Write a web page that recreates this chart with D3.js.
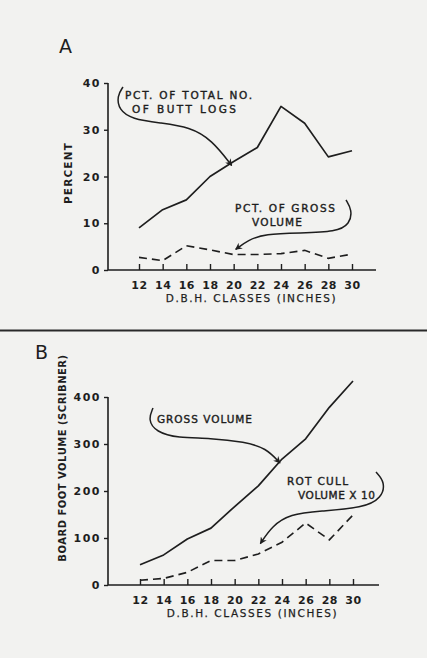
<!DOCTYPE html>
<html>
<head>
<meta charset="utf-8">
<script src="https://cdn.jsdelivr.net/npm/d3@7"></script>
<style>
  body { margin: 0; background: #f2f2f0; }
  svg { display: block; }
  text { font-family: "DejaVu Sans", sans-serif; fill: #1e1e1e; }
</style>
</head>
<body>
<svg id="chart" width="427" height="658"></svg>
<script>
// data
const dbhClasses = [12, 14, 16, 18, 20, 22, 24, 26, 28, 30];
const pctButtLogs = [9.0, 12.9, 15.0, 20.0, 23.2, 26.2, 35.0, 31.4, 24.2, 25.5];
const pctGrossVolume = [2.7, 2.0, 5.2, 4.3, 3.3, 3.3, 3.5, 4.2, 2.5, 3.4];
const grossVolume = [43, 64, 98, 121, 167, 211, 268, 311, 378, 434];
const rotCullX10 = [10, 14, 27, 52, 52, 66, 91, 132, 96, 149];
const pctTicks = [0, 10, 20, 30, 40];
const volTicks = [0, 100, 200, 300, 400];

const ink = "#1e1e1e";
const svg = d3.select("#chart");

svg.append("defs").append("marker")
    .attr("id", "arrow")
    .attr("viewBox", "0 -5 10 10")
    .attr("refX", 9)
    .attr("refY", 0)
    .attr("markerWidth", 7)
    .attr("markerHeight", 7)
    .attr("markerUnits", "userSpaceOnUse")
    .attr("orient", "auto")
    .append("path")
    .attr("fill", ink)
    .attr("d", "M0,-5L10,0L0,5L3,0Z");

// divider between the two panels
svg.append("line")
    .attr("x1", 0).attr("x2", 427)
    .attr("y1", 330.5).attr("y2", 330.5)
    .attr("stroke", "#2a2a2a")
    .attr("stroke-width", 2);

function panel(opts) {
    const g = svg.append("g");
    const x = d3.scaleLinear().domain([12, 30]).range(opts.xRange);
    const y = d3.scaleLinear().domain(opts.yDomain).range(opts.yRange);

    // axis lines
    g.append("path")
        .attr("fill", "none")
        .attr("stroke", ink)
        .attr("stroke-width", 1.6)
        .attr("d", `M${opts.axisX},${y.range()[1]}V${y(0)}H${opts.axisEnd}`);

    const xa = g.append("g")
        .attr("transform", `translate(0,${y(0)})`)
        .call(d3.axisBottom(x).tickValues(dbhClasses).tickSizeInner(-6).tickSizeOuter(0).tickPadding(11));
    xa.select(".domain").remove();
    xa.selectAll("line").attr("stroke", ink).attr("stroke-width", 1.4);
    xa.selectAll("text")
        .attr("font-size", 11).attr("font-weight", "bold")
        .attr("letter-spacing", 0.5).attr("fill", ink);

    const ya = g.append("g")
        .attr("transform", `translate(${opts.axisX},0)`)
        .call(d3.axisLeft(y).tickValues(opts.yTicks).tickSizeInner(4).tickSizeOuter(0).tickPadding(3));
    ya.select(".domain").remove();
    ya.selectAll("line").attr("stroke", ink).attr("stroke-width", 1.4);
    ya.selectAll("text")
        .attr("font-size", 11).attr("font-weight", "bold")
        .attr("letter-spacing", 1.5).attr("fill", ink);

    const line = d3.line().x((d, i) => x(dbhClasses[i])).y(d => y(d));

    g.append("path")
        .datum(opts.solid)
        .attr("fill", "none")
        .attr("stroke", ink)
        .attr("stroke-width", 1.7)
        .attr("stroke-linejoin", "round")
        .attr("d", line);

    g.append("path")
        .datum(opts.dashed)
        .attr("fill", "none")
        .attr("stroke", ink)
        .attr("stroke-width", 1.6)
        .attr("stroke-dasharray", "8,5")
        .attr("d", line);

    // axis titles
    g.append("text")
        .attr("x", (x(12) + x(30)) / 2 + 6)
        .attr("y", opts.xTitleY)
        .attr("text-anchor", "middle")
        .attr("font-size", 10.5)
        .attr("letter-spacing", 1.6)
        .attr("stroke", ink).attr("stroke-width", 0.25)
        .text("D.B.H. CLASSES (INCHES)");

    g.append("text")
        .attr("transform", `translate(${opts.yTitleX},${opts.yTitleY}) rotate(-90)`)
        .attr("text-anchor", "middle")
        .attr("font-size", opts.yTitleSize)
        .attr("font-weight", "bold")
        .attr("letter-spacing", opts.yTitleSpacing)
        .text(opts.yTitle);

    // panel letter
    g.append("text")
        .attr("x", opts.letterX).attr("y", opts.letterY)
        .attr("font-size", 19)
        .text(opts.letter);

    return { g, x, y };
}

// each line: [text, x offset, width in the figure]
function note(g, lines, x0, y0) {
    lines.forEach((t, i) => {
        g.append("text")
            .attr("x", x0 + t[1]).attr("y", y0 + i * 13.5)
            .attr("font-size", 10.5)
            .attr("stroke", ink).attr("stroke-width", 0.4)
            .attr("textLength", t[2])
            .attr("lengthAdjust", "spacing")
            .text(t[0]);
    });
}

function curve(g, pts, arrow) {
    g.append("path")
        .attr("fill", "none")
        .attr("stroke", ink)
        .attr("stroke-width", 1.5)
        .attr("marker-end", arrow ? "url(#arrow)" : null)
        .attr("d", d3.line().curve(d3.curveBasis)(pts));
}

// Panel A
const A = panel({
    xRange: [139, 352], yDomain: [0, 40], yRange: [270, 83],
    axisX: 108, axisEnd: 376, yTicks: pctTicks,
    solid: pctButtLogs, dashed: pctGrossVolume,
    xTitleY: 302, yTitleX: 72, yTitleY: 173, yTitle: "PERCENT",
    yTitleSize: 10.5, yTitleSpacing: 1.2,
    letter: "A", letterX: 59, letterY: 53
});

note(A.g, [["PCT. OF TOTAL NO.", 0, 127], ["OF BUTT LOGS", 7, 104]], 125, 99);
note(A.g, [["PCT. OF GROSS", 0, 100], ["VOLUME", 17, 50]], 235, 212);

// paren + arrow towards the butt-log line
curve(A.g, [[123, 87], [117, 96], [119, 110], [132, 119], [160, 123], [190, 127], [212, 140], [A.x(20) - 2, A.y(23) + 3]], true);
// paren + arrow towards the gross-volume line
curve(A.g, [[346, 200], [352, 210], [350, 224], [336, 232], [300, 233], [265, 234], [248, 240], [A.x(20) + 2, A.y(4.4)]], true);

// Panel B
const B = panel({
    xRange: [140, 353], yDomain: [0, 400], yRange: [585, 397],
    axisX: 108, axisEnd: 379, yTicks: volTicks,
    solid: grossVolume, dashed: rotCullX10,
    xTitleY: 617, yTitleX: 66, yTitleY: 458, yTitle: "BOARD FOOT VOLUME (SCRIBNER)",
    yTitleSize: 10, yTitleSpacing: 0.5,
    letter: "B", letterX: 35, letterY: 359
});

note(B.g, [["GROSS VOLUME", 0, 95]], 157, 423);
note(B.g, [["ROT CULL", 0, 61], ["VOLUME X 10", 11, 77]], 287, 485);

curve(B.g, [[376, 472], [385, 482], [382, 498], [363, 508], [320, 511], [290, 514], [272, 526], [B.x(22) + 2, B.y(88)]], true);
curve(B.g, [[153, 408], [148, 420], [156, 432], [178, 438], [210, 438], [245, 442], [266, 448], [B.x(24) - 2, B.y(268) + 4]], true);
</script>
</body>
</html>
